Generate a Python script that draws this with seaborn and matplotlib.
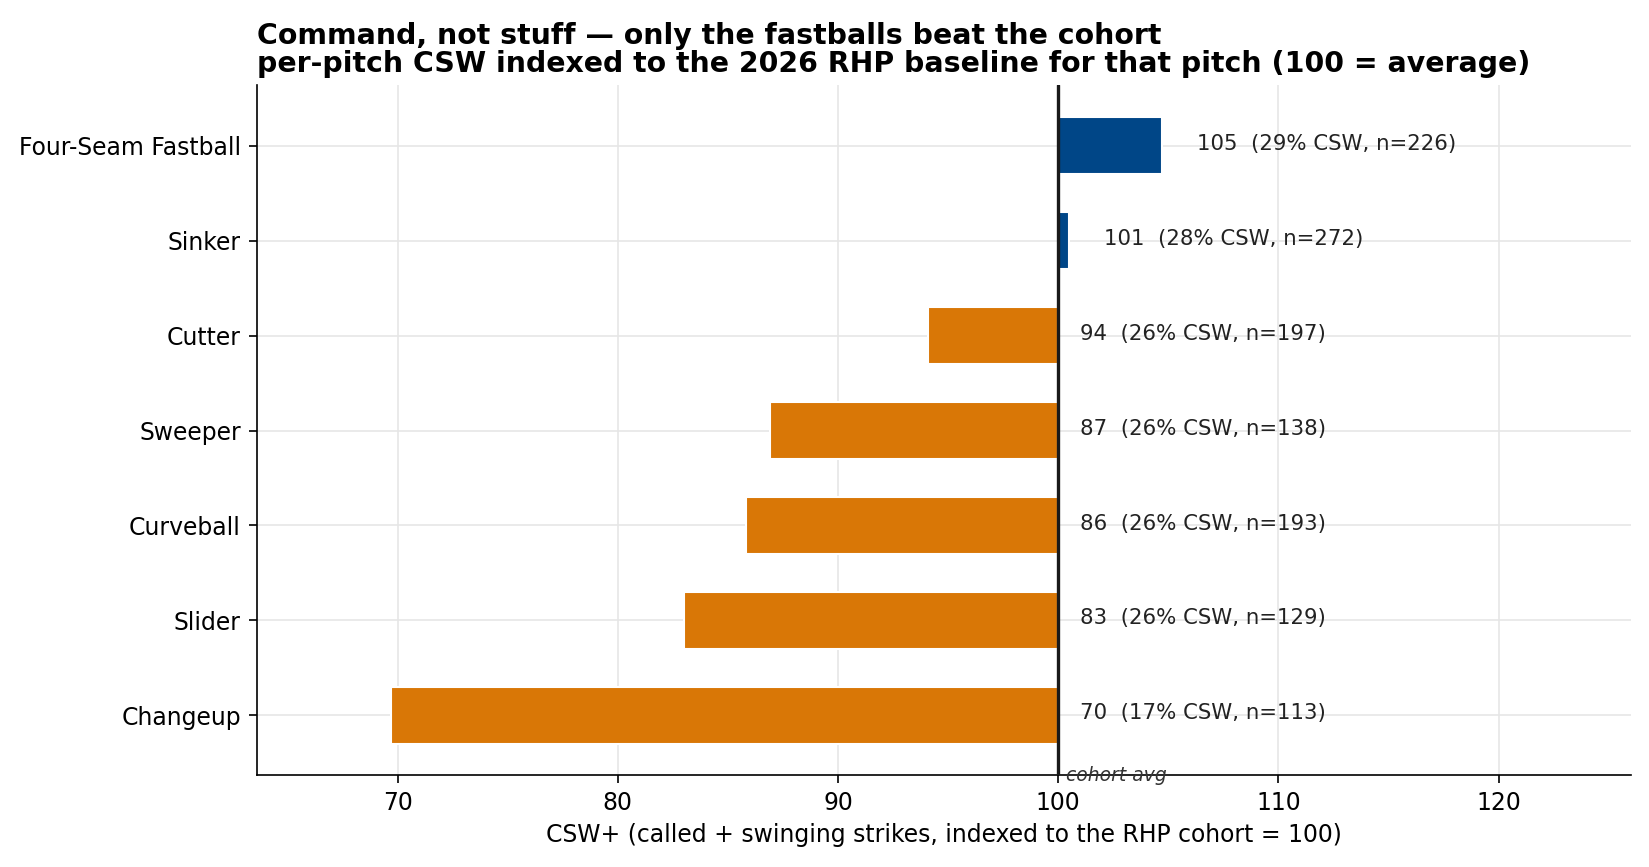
import numpy as np
import pandas as pd
import seaborn as sns
import matplotlib.pyplot as plt

# data
pitches = ["Four-Seam Fastball", "Sinker", "Cutter", "Sweeper", "Curveball", "Slider", "Changeup"]
csw_plus = [104.7, 100.5, 94.1, 86.9, 85.8, 83.0, 69.7]
csw_pct = [29, 28, 26, 26, 26, 26, 17]
n_pitches = [226, 272, 197, 138, 193, 129, 113]
shown = [105, 101, 94, 87, 86, 83, 70]

df = pd.DataFrame({"pitch": pitches, "csw_plus": csw_plus, "csw": csw_pct,
                   "n": n_pitches, "shown": shown})
df["side"] = np.where(df["csw_plus"] >= 100, "above", "below")

sns.set_style("white")
plt.rcParams["font.family"] = ["DejaVu Sans"]
plt.rcParams["text.color"] = "black"
plt.rcParams["axes.labelcolor"] = "black"
plt.rcParams["xtick.color"] = "black"
plt.rcParams["ytick.color"] = "black"
plt.rcParams["axes.edgecolor"] = "black"

fig, ax = plt.subplots(figsize=(1649 / 150, 867 / 150), dpi=150)
fig.subplots_adjust(left=0.1556, right=0.989, top=0.902, bottom=0.106)

sns.barplot(data=df, y="pitch", x="csw_plus", hue="side", orient="h",
            palette={"above": "#004687", "below": "#D97706"},
            width=0.6, dodge=False, legend=False, saturation=1, ax=ax)

# bars start at the baseline (100), not at 0
for p in ax.patches:
    w = p.get_width()
    p.set_x(min(w, 100))
    p.set_width(abs(w - 100))

ax.axvline(100, color="#1a1a1a", lw=1.6, zorder=3)

for i, row in df.iterrows():
    xt = row["csw_plus"] + 1.6 if row["csw_plus"] > 100 else 101
    ax.text(xt, i - 0.02, f"{row['shown']}  ({row['csw']}% CSW, n={row['n']})",
            va="center", ha="left", fontsize=10.2, color="#222222")

ax.text(100.35, 6.63, "cohort avg", fontsize=9, style="italic", color="#333333",
        va="center", ha="left")

ax.set_xlim(63.6, 126)
ax.set_ylim(6.63, -0.64)
ax.set_xticks([70, 80, 90, 100, 110, 120])
ax.grid(True, color="#e6e6e6", lw=0.8)
ax.set_axisbelow(True)
sns.despine(ax=ax)
ax.tick_params(axis="both", labelsize=11.3, length=4, left=True, bottom=True)
ax.set_ylabel("")
ax.set_xlabel("CSW+ (called + swinging strikes, indexed to the RHP cohort = 100)", fontsize=11.3)
ax.set_title("Command, not stuff \u2014 only the fastballs beat the cohort\n"
             "per-pitch CSW indexed to the 2026 RHP baseline for that pitch (100 = average)",
             loc="left", fontsize=13.6, fontweight="bold", linespacing=1.0)

plt.savefig("out.png", dpi=150)
